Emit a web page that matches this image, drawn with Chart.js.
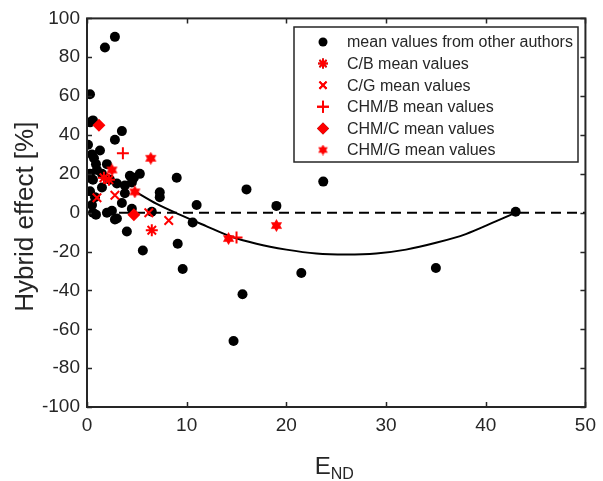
<!DOCTYPE html>
<html>
<head>
<meta charset="utf-8">
<script src="https://cdn.jsdelivr.net/npm/chart.js"></script>
<style>
body { margin: 0; background: #fff; }
</style>
</head>
<body>
<canvas id="mycanvas" width="603" height="481"></canvas>
<script>
// mean values from other authors
var authorsX = [2.8, 1.8, 0.3, 0.3, 0.6, 3.5, 2.8, 0.1, 1.3, 0.5, 0.7, 0.9, 1.0, 0.3, 0.1, 0.6, 2.3, 3.0, 4.3, 5.3,
	3.8, 4.5, 0.3, 0.8, 0.5, 0.6, 0.9, 2.5, 3.0, 2.0, 3.8, 4.7, 7.3, 7.3, 9.0, 11.0, 6.5, 4.0, 2.8, 10.6,
	5.6, 9.1, 9.6, 16.0, 19.0, 23.7, 21.5, 15.6, 14.7, 43.0, 35.0, 1.5, 2.0, 1.5, 3.5, 4.5];
var authorsY = [90.5, 85, 61, 46.5, 47.5, 42, 37.5, 35, 32, 30, 28, 25, 22, 20, 18, 17, 17, 15, 19, 20,
	14, 15.5, 11, 8, 4, 0, -1, 1, -3, 0, 10, 18, 10.5, 8, 18, 4, 0.5, -9.7, -3.5, -5,
	-19.5, -16, -29, 12, 3.5, 16, -31, -42, -66, 0.5, -28.5, 13, 25, 20, 5, 2];

// own measurements
var cbX = [1.7, 2.2, 6.5];
var cbY = [18, 17, -9];
var cgX = [1.0, 2.8, 6.2, 8.2];
var cgY = [7.7, 9, 0, -4];
var chmbX = [3.6, 15.0];
var chmbY = [30.6, -12.8];
var chmcX = [1.2, 4.7];
var chmcY = [45, -1];
var chmgX = [6.4, 2.5, 4.8, 19.0, 14.2];
var chmgY = [28, 22, 10.7, -6.6, -13.3];

// fitted trend curve
var fitX = [4.8, 7, 9.3, 12, 14.3, 17, 20, 23, 26, 29, 32, 35, 38, 41, 43];
var fitY = [11, 4.5, -1, -7, -12, -16, -19, -21, -21.5, -21, -19, -15.5, -11, -4.5, 0];

var zeroX = [0, 50];
var zeroY = [0, 0];

var xTicks = [0, 10, 20, 30, 40, 50];
var yTicks = [-100, -80, -60, -40, -20, 0, 20, 40, 60, 80, 100];

var textColor = "#262626";
var fontFamily = "'Liberation Sans', Arial, sans-serif";

function pts(xs, ys) {
	var out = [];
	for (var i = 0; i < xs.length; i++) {
		out.push({x: xs[i], y: ys[i]});
	}
	return out;
}

// filled six-pointed star marker
function hexagram(size) {
	var c = document.createElement("canvas");
	c.width = size;
	c.height = size;
	var g = c.getContext("2d");
	var r = size / 2;
	g.fillStyle = "#ff0000";
	g.beginPath();
	for (var k = 0; k < 12; k++) {
		var a = -Math.PI / 2 + k * Math.PI / 6;
		var rr = (k % 2 == 0) ? r : r * 0.58;
		g.lineTo(r + rr * Math.cos(a), r + rr * Math.sin(a));
	}
	g.closePath();
	g.fill();
	return c;
}

var hexBig = hexagram(13);
var hexSmall = hexagram(11);

var datasets = [
	{
		label: "mean values from other authors",
		data: pts(authorsX, authorsY),
		pointStyle: "circle",
		pointRadius: 5,
		backgroundColor: "#000",
		borderColor: "#000",
		borderWidth: 0,
		order: 3,
		legendRadius: 4.5
	},
	{
		label: "C/B mean values",
		data: pts(cbX, cbY),
		pointStyle: "star",
		pointRadius: 6,
		borderColor: "#ff0000",
		backgroundColor: "#ff0000",
		borderWidth: 2,
		order: 0,
		legendRadius: 5
	},
	{
		label: "C/G mean values",
		data: pts(cgX, cgY),
		pointStyle: "crossRot",
		pointRadius: 6,
		borderColor: "#ff0000",
		backgroundColor: "#ff0000",
		borderWidth: 2,
		order: 0,
		legendRadius: 5
	},
	{
		label: "CHM/B mean values",
		data: pts(chmbX, chmbY),
		pointStyle: "cross",
		pointRadius: 6,
		borderColor: "#ff0000",
		backgroundColor: "#ff0000",
		borderWidth: 2,
		order: 0,
		legendRadius: 6
	},
	{
		label: "CHM/C mean values",
		data: pts(chmcX, chmcY),
		pointStyle: "rectRot",
		pointRadius: 6.5,
		borderColor: "#ff0000",
		backgroundColor: "#ff0000",
		borderWidth: 0,
		order: 0,
		legendRadius: 6
	},
	{
		label: "CHM/G mean values",
		data: pts(chmgX, chmgY),
		pointStyle: hexBig,
		legendStyle: hexSmall,
		pointRadius: 6,
		borderColor: "#ff0000",
		backgroundColor: "#ff0000",
		borderWidth: 0,
		order: 0,
		legendRadius: 5
	},
	{
		label: "fit",
		data: pts(fitX, fitY),
		showLine: true,
		pointRadius: 0,
		borderColor: "#000",
		borderWidth: 2,
		cubicInterpolationMode: "monotone",
		order: 1,
		noLegend: true
	},
	{
		label: "zero",
		data: pts(zeroX, zeroY),
		showLine: true,
		pointRadius: 0,
		borderColor: "#000",
		borderWidth: 2,
		borderDash: [10, 6],
		order: 2,
		noLegend: true
	}
];

// box, inward ticks, axis titles and legend
var framePlugin = {
	id: "frame",
	afterDraw: function(chart) {
		var ctx = chart.ctx;
		var a = chart.chartArea;
		var xs = chart.scales.x;
		var ys = chart.scales.y;
		ctx.save();
		ctx.strokeStyle = textColor;
		ctx.lineWidth = 2;
		ctx.strokeRect(a.left, a.top, a.right - a.left, a.bottom - a.top);
		ctx.lineWidth = 1.5;
		ctx.beginPath();
		xTicks.forEach(function(v) {
			var px = Math.round(xs.getPixelForValue(v)) + 0.5;
			ctx.moveTo(px, a.bottom); ctx.lineTo(px, a.bottom - 5);
			ctx.moveTo(px, a.top); ctx.lineTo(px, a.top + 5);
		});
		yTicks.forEach(function(v) {
			var py = Math.round(ys.getPixelForValue(v)) + 0.5;
			ctx.moveTo(a.left, py); ctx.lineTo(a.left + 5, py);
			ctx.moveTo(a.right, py); ctx.lineTo(a.right - 5, py);
		});
		ctx.stroke();

		// y axis title
		ctx.fillStyle = textColor;
		ctx.font = "26px " + fontFamily;
		ctx.textAlign = "center";
		ctx.textBaseline = "middle";
		ctx.translate(26, (a.top + a.bottom) / 2 + 4);
		ctx.rotate(-Math.PI / 2);
		ctx.fillText("Hybrid effect [%]", 0, 0);
		ctx.setTransform(1, 0, 0, 1, 0, 0);

		// x axis title with subscript
		ctx.textAlign = "left";
		ctx.textBaseline = "alphabetic";
		ctx.font = "24px " + fontFamily;
		var wE = ctx.measureText("E").width;
		ctx.font = "16px " + fontFamily;
		var wS = ctx.measureText("ND").width;
		var x0 = (a.left + a.right) / 2 - (wE + wS) / 2 - 2;
		ctx.font = "24px " + fontFamily;
		ctx.fillText("E", x0, 474);
		ctx.font = "16px " + fontFamily;
		ctx.fillText("ND", x0 + wE, 479);

		// legend
		ctx.fillStyle = "#fff";
		ctx.fillRect(294, 27, 284, 135);
		ctx.strokeStyle = textColor;
		ctx.lineWidth = 1.5;
		ctx.strokeRect(294, 27, 284, 135);
		var rowY = 42;
		ctx.font = "16px " + fontFamily;
		ctx.textBaseline = "middle";
		chart.data.datasets.forEach(function(ds) {
			if (ds.noLegend) return;
			Chart.helpers.drawPoint(ctx, {
				pointStyle: ds.legendStyle || ds.pointStyle,
				radius: ds.legendRadius,
				rotation: 0,
				borderWidth: ds.borderWidth
			}, 323, rowY);
			ctx.fillStyle = ds.backgroundColor;
			ctx.strokeStyle = ds.borderColor;
			ctx.lineWidth = ds.borderWidth;
			if (ds.pointStyle === "circle" || ds.pointStyle === "rectRot") {
				ctx.fill();
			} else if (typeof ds.pointStyle === "string") {
				ctx.stroke();
			}
			ctx.fillStyle = textColor;
			ctx.fillText(ds.label, 347, rowY + 1);
			rowY += 21.6;
		});
		ctx.restore();
	}
};

var ctx = document.getElementById("mycanvas");

var ScatterGraph = new Chart(ctx, {
	type: "scatter",
	data: { datasets: datasets },
	options: {
		responsive: false,
		animation: false,
		devicePixelRatio: 1,
		layout: { padding: { top: 15, right: 15, left: 0, bottom: 0 } },
		plugins: {
			legend: { display: false },
			tooltip: { enabled: false }
		},
		scales: {
			x: {
				type: "linear",
				min: 0,
				max: 50,
				afterBuildTicks: function(scale) {
					scale.ticks = xTicks.map(function(v) { return {value: v}; });
				},
				afterFit: function(scale) { scale.height = 74; },
				grid: { display: false, drawTicks: false },
				border: { display: false },
				ticks: {
					color: textColor,
					padding: 7,
					maxRotation: 0,
					font: { size: 19, family: fontFamily }
				}
			},
			y: {
				type: "linear",
				min: -100,
				max: 100,
				afterBuildTicks: function(scale) {
					scale.ticks = yTicks.map(function(v) { return {value: v}; });
				},
				afterFit: function(scale) { scale.width = 87; },
				grid: { display: false, drawTicks: false },
				border: { display: false },
				ticks: {
					color: textColor,
					padding: 7,
					font: { size: 19, family: fontFamily }
				}
			}
		}
	},
	plugins: [framePlugin]
});
</script>
</body>
</html>
